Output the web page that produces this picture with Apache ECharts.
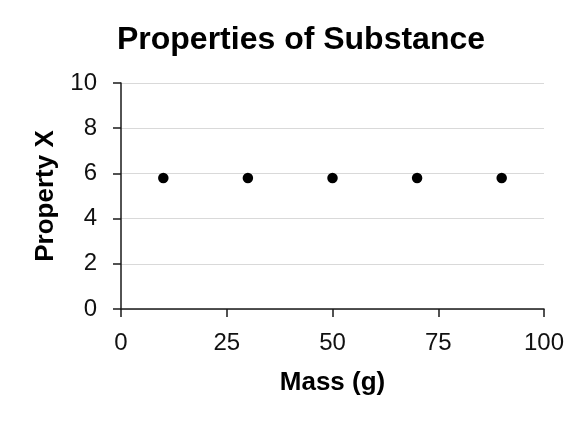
<!DOCTYPE html>
<html><head><meta charset="utf-8">
<script src="https://cdn.jsdelivr.net/npm/echarts@6/dist/echarts.min.js"></script>
<style>html,body{margin:0;padding:0;background:#fff}#c{width:576px;height:429px}</style>
</head><body><div id="c"></div>
<script>
var massValues = [10, 30, 50, 70, 90];
var propertyValues = [5.8, 5.8, 5.8, 5.8, 5.8];
var xTicks = [0, 25, 50, 75, 100];
var yTicks = [0, 2, 4, 6, 8, 10];
var titleText = 'Properties of Substance';
var xName = 'Mass (g)';
var yName = 'Property X';

var chart = echarts.init(document.getElementById('c'));
var font = '"Liberation Sans", Arial, sans-serif';
chart.setOption({
  animation: false,
  title: {text: titleText, left: 296, top: 19, textAlign: 'center',
    textStyle: {fontFamily: font, fontSize: 32, fontWeight: 'bold', color: '#000'}},
  grid: {left: 121, right: 32, top: 83, bottom: 120},
  xAxis: {type: 'value', min: xTicks[0], max: xTicks[xTicks.length-1], interval: 25,
    name: xName, nameLocation: 'middle', nameGap: 61,
    nameTextStyle: {fontFamily: font, fontSize: 26, fontWeight: 'bold', color: '#000'},
    axisLine: {show: true, lineStyle: {color: '#1a1a1a', width: 1.5}},
    axisTick: {show: true, length: 8, lineStyle: {color: '#1a1a1a', width: 1.5}},
    axisLabel: {fontFamily: font, fontSize: 24, color: '#111', margin: 22},
    splitLine: {show: false}},
  yAxis: {type: 'value', min: yTicks[0], max: yTicks[yTicks.length-1], interval: 2,
    name: yName, nameLocation: 'middle', nameGap: 62,
    nameTextStyle: {fontFamily: font, fontSize: 26, fontWeight: 'bold', color: '#000'},
    axisLine: {show: true, lineStyle: {color: '#1a1a1a', width: 1.5}},
    axisTick: {show: true, length: 8, lineStyle: {color: '#1a1a1a', width: 1.5}},
    axisLabel: {fontFamily: font, fontSize: 24, color: '#111', margin: 24},
    splitLine: {show: true, lineStyle: {color: '#d9d9d9', width: 1.2}}},
  series: [{type: 'scatter', symbol: 'circle', symbolSize: 10.5,
    itemStyle: {color: '#000', opacity: 1},
    data: massValues.map(function(m, i){ return [m, propertyValues[i]]; })}]
});
</script></body></html>
